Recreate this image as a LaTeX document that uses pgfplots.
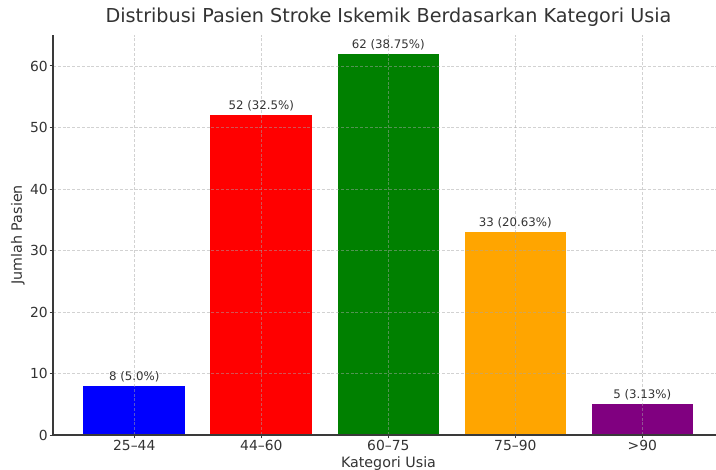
\documentclass[border=0pt]{standalone}
\usepackage{fontspec}
\setmainfont{DejaVu Sans}
\usepackage{pgfplots}
\pgfplotsset{compat=1.18}

\definecolor{txt}{HTML}{333333}
\definecolor{spine}{HTML}{3A3A3A}
\definecolor{gridc}{HTML}{A6A6A6}
\definecolor{mplgreen}{RGB}{0,128,0}
\definecolor{mplorange}{RGB}{255,165,0}
\definecolor{mplpurple}{RGB}{128,0,128}

\pgfplotsset{
  barlab/.style={
    ybar, bar shift=0pt, bar width=0.8, draw=none, fill=#1,
    every node near coord/.append style={anchor=base, yshift=4.1pt,
      font=\fontsize{8.85}{10}\selectfont, color=txt},
  },
}

\begin{document}
\begin{tikzpicture}
\begin{axis}[
    at={(0,0)}, anchor=south west,
    scale only axis,
    width=497.25pt, height=300.3pt,
    xmin=-0.64, xmax=4.58,
    ymin=0, ymax=65.1,
    axis lines*=left,
    axis line style={spine, line width=0.8pt},
    axis on top,
    xtick={0,1,2,3,4},
    xticklabels={25--44,44--60,60--75,75--90,>90},
    ytick={0,10,20,30,40,50,60},
    tick align=outside,
    major tick length=2.5pt,
    tick style={spine, line width=0.7pt},
    grid=major,
    grid style={gridc, draw opacity=0.5, dash pattern=on 2.2pt off 1.4pt, line width=0.55pt},
    title={Distribusi Pasien Stroke Iskemik Berdasarkan Kategori Usia},
    title style={yshift=-3.6pt, xshift=3pt,
      font=\fontsize{14.4}{16}\selectfont, color=txt},
    xlabel={Kategori Usia},
    ylabel={Jumlah Pasien},
    label style={font=\fontsize{10.7}{12}\selectfont, color=txt},
    xlabel style={at={(axis description cs:0.506,0)}, anchor=base, yshift=-24.4pt},
    ylabel style={at={(axis description cs:-0.0528,0.5)}, anchor=center},
    tick label style={font=\fontsize{10.4}{12}\selectfont, color=txt},
    yticklabel style={inner sep=1.2pt},
    xticklabel style={inner sep=1.2pt},
    /pgf/number format/assume math mode=true,
]
\addplot[barlab=blue, nodes near coords={8 (5.0\%)}] coordinates {(0,8)};
\addplot[barlab=red, nodes near coords={52 (32.5\%)}] coordinates {(1,52)};
\addplot[barlab=mplgreen, nodes near coords={62 (38.75\%)}] coordinates {(2,62)};
\addplot[barlab=mplorange, nodes near coords={33 (20.63\%)}] coordinates {(3,33)};
\addplot[barlab=mplpurple, nodes near coords={5 (3.13\%)}] coordinates {(4,5)};
\end{axis}
\pgfresetboundingbox
\useasboundingbox (-39.75pt,-26.25pt) rectangle (497.25pt,326.25pt);
\end{tikzpicture}
\end{document}
